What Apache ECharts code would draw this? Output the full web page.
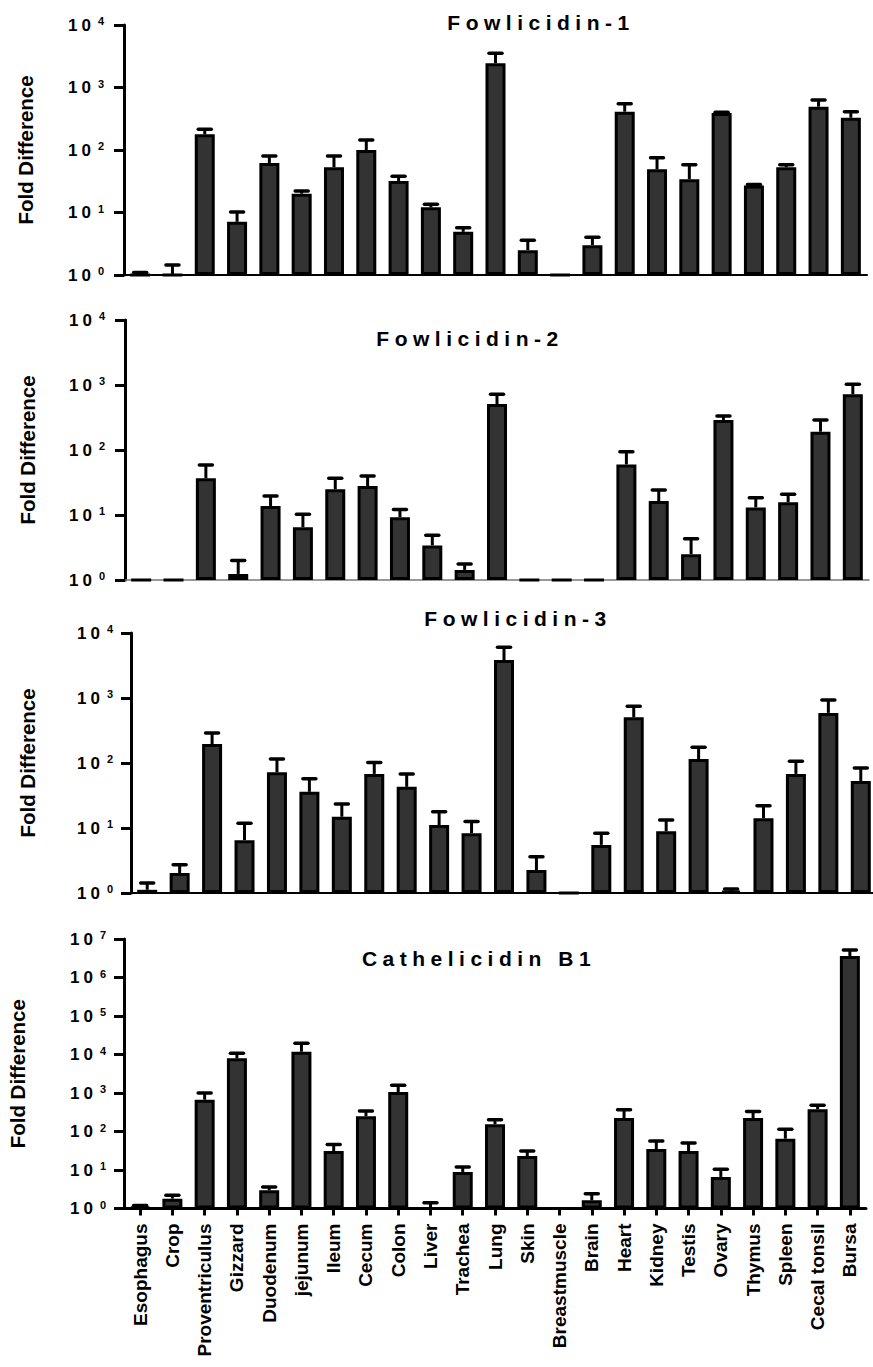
<!DOCTYPE html>
<html>
<head>
<meta charset="utf-8">
<script src="https://cdn.jsdelivr.net/npm/echarts@6/dist/echarts.min.js"></script>
<style>
  html, body { margin: 0; padding: 0; background: #fff; }
  #chart { width: 873px; height: 1367px; }
  #chart text[style*="21px"] { letter-spacing: 5.5px; }
  #chart text[style*="17px"] { letter-spacing: 4px; }
</style>
</head>
<body>
<div id="chart"></div>
<script>
const categories = ['Esophagus','Crop','Proventriculus','Gizzard','Duodenum','jejunum','Ileum','Cecum','Colon','Liver','Trachea','Lung','Skin','Breastmuscle','Brain','Heart','Kidney','Testis','Ovary','Thymus','Spleen','Cecal tonsil','Bursa'];

const titles = ['Fowlicidin-1', 'Fowlicidin-2', 'Fowlicidin-3', 'Cathelicidin B1'];
const yAxisTitle = 'Fold Difference';

// mean fold difference
const fowl1 = [1.0, 1.0, 178, 7.1, 62, 20, 53, 100, 32, 12.1, 4.9, 2440, 2.5, 1, 3.0, 410, 49, 34, 391, 27, 53, 493, 329];
const fowl2 = [1, 1, 36.7, 1.24, 13.7, 6.5, 24.9, 27.9, 9.2, 3.4, 1.43, 510, 1, 1, 1, 60, 16.4, 2.5, 290, 13.1, 15.7, 191, 720];
const fowl3 = [1.12, 2.03, 196, 6.5, 72, 36, 14.9, 68, 43, 11.1, 8.3, 3840, 2.26, 1, 5.5, 505, 8.9, 115, 1.07, 14.1, 68, 590, 53];
const cathB1 = [1.09, 1.8, 670, 7950, 2.97, 11800, 31, 248, 1060, 1, 8.9, 154, 23, 1, 1.63, 224, 35, 31, 6.6, 224, 65, 378, 3600000];

// upper end of the error bar
const fowl1Err = [1.1, 1.45, 215, 10.2, 80, 22, 80, 145, 38, 13.5, 5.7, 3520, 3.6, 1, 4.0, 550, 75, 58, 400, 28, 58, 630, 410];
const fowl2Err = [1, 1, 59, 2.0, 19.6, 10.3, 36.7, 39.8, 12.2, 4.9, 1.76, 720, 1, 1, 1, 94, 24.3, 4.3, 333, 18.5, 20.8, 290, 1025];
const fowl3Err = [1.43, 2.72, 290, 11.8, 115, 57, 23.4, 102, 68, 17.8, 12.6, 6030, 3.6, 1, 8.3, 745, 13.3, 174, 1.15, 22, 106, 930, 84];
const cathB1Err = [1.2, 2.2, 1000, 10700, 3.6, 19600, 46, 340, 1590, 1.4, 12, 203, 31, 1, 2.4, 368, 57, 50, 10.4, 333, 114, 479, 5200000];

const yMax = [10000, 10000, 10000, 10000000];

const means = [fowl1, fowl2, fowl3, cathB1];
const errs = [fowl1Err, fowl2Err, fowl3Err, cathB1Err];

const FONT = '"Liberation Sans", Arial, sans-serif';

const grids = [
  { left: 124, right: 6, top: 25, height: 250 },
  { left: 125, right: 4, top: 320, height: 260 },
  { left: 131, right: -4, top: 633, height: 260 },
  { left: 124, right: 7, top: 939, height: 269.5 }
];
const nameGaps = [88, 87, 93, 96];
const labelMargins = [20, 20, 18, 18];
const xLineStyles = [
  { color: '#000', width: 2 },
  { color: '#777', width: 1.5 },
  { color: '#000', width: 2 },
  { color: '#000', width: 3 }
];
const titlePos = [[541, 22], [470, 338], [518, 618], [479, 958]];

function errRender(params, api) {
  const i = api.value(0), v = api.value(1), e = api.value(2);
  if (!(e > v)) return;
  const top = api.coord([i, e]);
  const base = api.coord([i, v]);
  const half = 6.5;
  return {
    type: 'group',
    children: [
      { type: 'line', shape: { x1: top[0], y1: base[1], x2: top[0], y2: top[1] },
        style: { stroke: '#000', lineWidth: 3 } },
      { type: 'line', shape: { x1: top[0] - half, y1: top[1], x2: top[0] + half, y2: top[1] },
        style: { stroke: '#000', lineWidth: 3.5, lineCap: 'round' } }
    ]
  };
}

const option = {
  animation: false,
  backgroundColor: '#fff',
  grid: grids.map(g => Object.assign({ outerBoundsMode: 'none', containLabel: false }, g)),
  xAxis: grids.map((g, k) => ({
    type: 'category',
    gridIndex: k,
    data: categories,
    boundaryGap: true,
    axisLine: { show: true, lineStyle: xLineStyles[k] },
    axisTick: { show: k === 3, alignWithLabel: true, length: 7, lineStyle: { color: '#000', width: 3 } },
    axisLabel: {
      show: k === 3, rotate: 90, interval: 0, margin: 15,
      fontFamily: FONT, fontWeight: 'bold', fontSize: 19, color: '#000'
    },
    splitLine: { show: false }
  })),
  yAxis: grids.map((g, k) => ({
    type: 'log',
    logBase: 10,
    gridIndex: k,
    min: 1,
    max: yMax[k],
    splitNumber: 10,
    name: yAxisTitle,
    nameLocation: 'middle',
    nameGap: nameGaps[k],
    nameRotate: 90,
    nameTextStyle: { fontFamily: FONT, fontWeight: 'bold', fontSize: 20.5, color: '#000' },
    axisLine: { show: true, lineStyle: { color: '#000', width: 3 } },
    axisTick: { show: true, inside: false, length: 10, lineStyle: { color: '#000', width: 3 } },
    minorTick: { show: false },
    splitLine: { show: false },
    axisLabel: {
      margin: labelMargins[k],
      formatter: function (v) {
        const ex = Math.round(Math.log10(v));
        return '{b|10}{s|' + ex + '}';
      },
      rich: {
        b: { fontFamily: FONT, fontWeight: 'bold', fontSize: 17, lineHeight: 19, color: '#000', verticalAlign: 'middle' },
        s: { fontFamily: FONT, fontWeight: 'bold', fontSize: 11, lineHeight: 11, color: '#000', verticalAlign: 'top', padding: [0, 0, 0, 3] }
      }
    }
  })),
  graphic: titles.map((t, k) => ({
    type: 'text',
    x: titlePos[k][0],
    y: titlePos[k][1],
    style: {
      text: t, fontFamily: FONT, fontWeight: 'bold', fontSize: 21, fill: '#000',
      textAlign: 'center', textVerticalAlign: 'middle'
    }
  })),
  series: []
};

means.forEach((vals, k) => {
  option.series.push({
    type: 'bar',
    xAxisIndex: k,
    yAxisIndex: k,
    data: vals,
    barWidth: 20,
    itemStyle: { color: '#333333', borderColor: '#000', borderWidth: 3 },
    z: 2
  });
  option.series.push({
    type: 'custom',
    xAxisIndex: k,
    yAxisIndex: k,
    renderItem: errRender,
    encode: { x: 0, y: [1, 2] },
    data: vals.map((v, i) => [i, v, errs[k][i]]),
    z: 3,
    clip: false
  });
});

const chart = echarts.init(document.getElementById('chart'), null, { renderer: 'svg', width: 873, height: 1367 });
chart.setOption(option);
</script>
</body>
</html>
